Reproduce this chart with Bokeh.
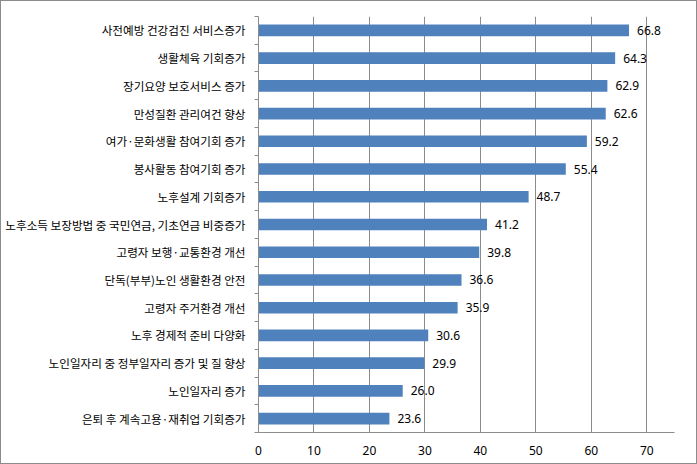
from bokeh.plotting import figure
from bokeh.models import Range1d, FixedTicker, ColumnDataSource
from bokeh.core.properties import value
from bokeh.embed import file_html
from bokeh.resources import INLINE

categories = [
    "사전예방 건강검진 서비스증가",
    "생활체육 기회증가",
    "장기요양 보호서비스 증가",
    "만성질환 관리여건 향상",
    "여가·문화생활 참여기회 증가",
    "봉사활동 참여기회 증가",
    "노후설계 기회증가",
    "노후소득 보장방법 중 국민연금, 기초연금 비중증가",
    "고령자 보행·교통환경 개선",
    "단독(부부)노인 생활환경 안전",
    "고령자 주거환경 개선",
    "노후 경제적 준비 다양화",
    "노인일자리 중 정부일자리 증가 및 질 향상",
    "노인일자리 증가",
    "은퇴 후 계속고용·재취업 기회증가",
]
values = [66.8, 64.3, 62.9, 62.6, 59.2, 55.4, 48.7, 41.2, 39.8, 36.6, 35.9, 30.6, 29.9, 26.0, 23.6]
x_ticks = [0, 10, 20, 30, 40, 50, 60, 70]

n = len(categories)
pos = list(range(n))
src = ColumnDataSource(dict(y=pos, v=values, lab=[f"{v:.1f}" for v in values]))

p = figure(width=697, height=464, output_backend="svg", toolbar_location=None,
           x_range=Range1d(0, 75), y_range=Range1d(n - 0.5, -0.5),
           min_border_left=257, min_border_right=24, min_border_top=15, min_border_bottom=33)
p.outline_line_color = None
p.background_fill_color = "white"
p.border_fill_color = "white"
p.styles = {"box-sizing": "border-box", "border": "1px solid #8c8c8c"}

p.hbar(y="y", right="v", left=0, height=0.42, source=src, color="#4F81BD", line_color=None)
p.text(x="v", y="y", text="lab", source=src, x_offset=8, text_baseline="middle",
       text_align="left", text_font=value("Noto Sans"), text_font_size="12px", text_color="black")

p.ygrid.grid_line_color = None
p.xgrid.grid_line_color = "#8c8c8c"
p.xgrid.ticker = FixedTicker(ticks=x_ticks)

p.xaxis.ticker = FixedTicker(ticks=x_ticks)
p.xaxis.axis_line_color = "#8c8c8c"
p.xaxis.major_tick_line_color = None
p.xaxis.minor_tick_line_color = None
p.xaxis.major_label_text_font = "Noto Sans"
p.xaxis.major_label_text_font_size = "12px"
p.xaxis.major_label_text_color = "black"
p.xaxis.major_label_standoff = 7

p.yaxis.ticker = FixedTicker(ticks=pos, minor_ticks=[i - 0.5 for i in range(n + 1)])
p.yaxis.major_label_overrides = {i: c for i, c in enumerate(categories)}
p.yaxis.axis_line_color = "#8c8c8c"
p.yaxis.major_tick_line_color = None
p.yaxis.major_tick_out = 0
p.yaxis.major_tick_in = 0
p.yaxis.minor_tick_line_color = "#8c8c8c"
p.yaxis.minor_tick_out = 4
p.yaxis.minor_tick_in = 0
p.yaxis.major_label_text_font = "Noto Sans CJK KR"
p.yaxis.major_label_text_font_size = "11.6px"
p.yaxis.major_label_text_color = "black"
p.yaxis.major_label_standoff = 9

open("out.html", "w").write(file_html(p, INLINE))
